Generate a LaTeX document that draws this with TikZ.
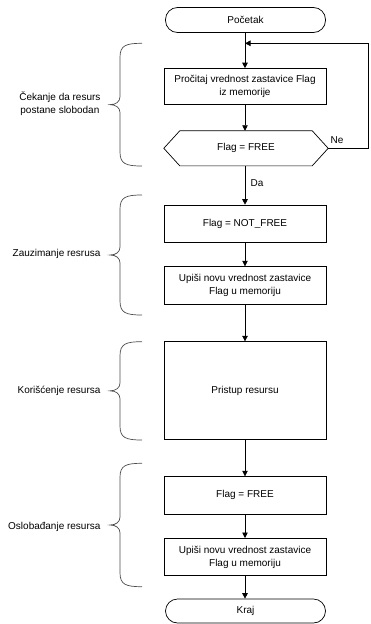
\documentclass[tikz,border=0pt]{standalone}
\usepackage{fontspec}
\setmainfont{Liberation Sans}
\usetikzlibrary{arrows.meta,calc}
\begin{document}
\begin{tikzpicture}[x=1pt,y=1pt,
  font=\fontsize{10}{13}\selectfont,
  box/.style={draw,line width=0.7pt,minimum width=162pt,align=center,inner sep=0pt},
  term/.style={draw,line width=0.7pt,minimum width=160pt,rounded corners=12pt,inner sep=0pt},
  flow/.style={line width=0.7pt,-{Triangle[length=5.5pt,width=5.5pt]}},
  brace/.style={draw=black!70,line width=0.7pt},
  blabel/.style={anchor=east,align=center}]
\useasboundingbox (0,0) rectangle (370,-624);
\node[term,minimum height=25pt] (start) at (245.5,-20) {Početak};
\node[box,minimum height=35.5pt] (b1) at (245,-86.3) {Pročitaj vrednost zastavice Flag\\iz memorije};
\node[minimum width=164pt,minimum height=34.7pt,inner sep=0pt] (d) at (246,-148.3) {Flag = FREE};
\draw[line width=0.7pt] ([xshift=16pt]d.north west) -- ([xshift=-16pt]d.north east) -- (d.east)
  -- ([xshift=-16pt]d.south east) -- ([xshift=16pt]d.south west) -- (d.west) -- cycle;
\node[box,minimum height=37.3pt] (b2) at (245,-223.7) {Flag = NOT\_FREE};
\node[box,minimum height=37.3pt] (b3) at (245,-285.3) {Upiši novu vrednost zastavice\\Flag u memoriju};
\node[box,minimum height=97.6pt] (b4) at (245,-390.5) {Pristup resursu};
\node[box,minimum height=37.3pt] (b5) at (245,-495.3) {Flag = FREE};
\node[box,minimum height=37.3pt] (b6) at (245,-557) {Upiši novu vrednost zastavice\\Flag u memoriju};
\node[term,minimum height=24pt] (end) at (245.5,-611) {Kraj};
% connectors
\coordinate (j) at (245,-43.3);
\coordinate (r1) at (368,-148.3);
\coordinate (r2) at (368,-43.3);
\draw[flow] (start.south -| b1.north) -- (b1.north);
\draw[flow] (b1) -- (b1.south |- d.north);
\draw[flow] (d.south -| b2.north) -- (b2.north);
\draw[flow] (b2) -- (b3);
\draw[flow] (b3) -- (b4);
\draw[flow] (b4) -- (b5);
\draw[flow] (b5) -- (b6);
\draw[flow] (b6) -- (b6.south |- end.north);
\draw[flow] (d.east) -- (r1) -- (r2) -- (j);
\node (ne) at (337,-140) {Ne};
\node (da) at (257,-182.7) {Da};
% braces
\newcommand{\mybrace}[2]{%
  \draw[brace] (142,#1) .. controls (126,#1) and (120,#1-2) .. (120,#1-14)
    -- (120,{(#1+#2)/2+8}) .. controls (120,{(#1+#2)/2+3}) and (116,{(#1+#2)/2}) .. (110,{(#1+#2)/2})
    .. controls (116,{(#1+#2)/2}) and (120,{(#1+#2)/2-3}) .. (120,{(#1+#2)/2-8})
    -- (120,#2+14) .. controls (120,#2+2) and (126,#2) .. (142,#2);}
\mybrace{-43.3}{-166}
\mybrace{-195}{-315}
\mybrace{-341.7}{-440}
\mybrace{-463.3}{-586.7}
\node[blabel] (l1) at (104,-104) {Čekanje da resurs\\postane slobodan};
\node[blabel] (l2) at (104,-254.3) {Zauzimanje resrusa};
\node[blabel] (l3) at (104,-390.7) {Korišćenje resursa};
\node[blabel] (l4) at (104,-526.7) {Oslobađanje resursa};
\end{tikzpicture}
\end{document}
